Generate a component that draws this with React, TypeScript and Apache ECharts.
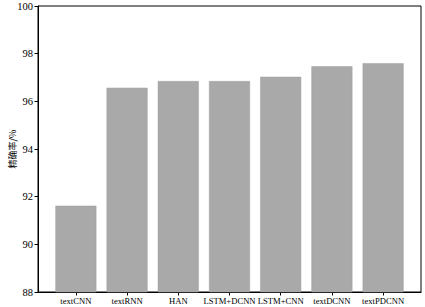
import React, { useEffect, useRef } from "react";
import * as echarts from "echarts";

const categories = ["textCNN", "textRNN", "HAN", "LSTM+DCNN", "LSTM+CNN", "textDCNN", "textPDCNN"];
const accuracy = [91.62, 96.57, 96.85, 96.85, 97.03, 97.47, 97.6];
const yTicks = [88, 90, 92, 94, 96, 98, 100];

export default function App() {
  const ref = useRef<HTMLDivElement>(null);
  useEffect(() => {
    if (!ref.current) return;
    const chart = echarts.init(ref.current, null, { renderer: "svg" });
    const idx = categories.map((_, i) => i);
    chart.setOption({
      animation: false,
      backgroundColor: "#ffffff",
      grid: {
        left: 38,
        right: 4,
        top: 6,
        bottom: 15,
        show: true,
        borderColor: "#000000",
        borderWidth: 1,
        backgroundColor: "transparent",
        outerBoundsMode: "none",
        containLabel: false,
      },
      xAxis: {
        type: "value",
        min: -0.74,
        max: 6.74,
        splitLine: { show: false },
        axisLine: { show: true, onZero: false, lineStyle: { color: "#000", width: 1 } },
        axisTick: { show: true, customValues: idx, length: 3.5, lineStyle: { color: "#000" } },
        axisLabel: {
          customValues: idx,
          formatter: (v: number) => categories[Math.round(v)] ?? "",
          fontFamily: "Liberation Serif",
          fontSize: 8.6,
          color: "#000",
          margin: 4,
        },
      },
      yAxis: {
        type: "value",
        min: 88,
        max: 100,
        interval: 2,
        splitLine: { show: false },
        axisLine: { show: true, onZero: false, lineStyle: { color: "#000", width: 1 } },
        axisTick: { show: true, length: 3.5, lineStyle: { color: "#000" } },
        axisLabel: {
          fontFamily: "Liberation Serif",
          fontSize: 10.5,
          color: "#000",
          margin: 5,
          formatter: (v: number) => (yTicks.includes(v) ? String(v) : ""),
        },
        name: "精确率/%",
        nameLocation: "middle",
        nameGap: 26,
        nameRotate: 90,
        nameMoveOverlap: false,
        nameTextStyle: { fontFamily: "Noto Sans CJK SC", fontSize: 9, color: "#000", verticalAlign: "middle" },
      },
      series: [
        {
          type: "bar",
          data: accuracy.map((v, i) => [i, v]),
          barWidth: 41,
          itemStyle: { color: "#a9a9a9", borderColor: "#a0a0a0", borderWidth: 0.5 },
        },
      ],
    });
    return () => chart.dispose();
  }, []);
  return <div ref={ref} style={{ width: 425, height: 307, position: "absolute", left: 0, top: 0 }} />;
}
